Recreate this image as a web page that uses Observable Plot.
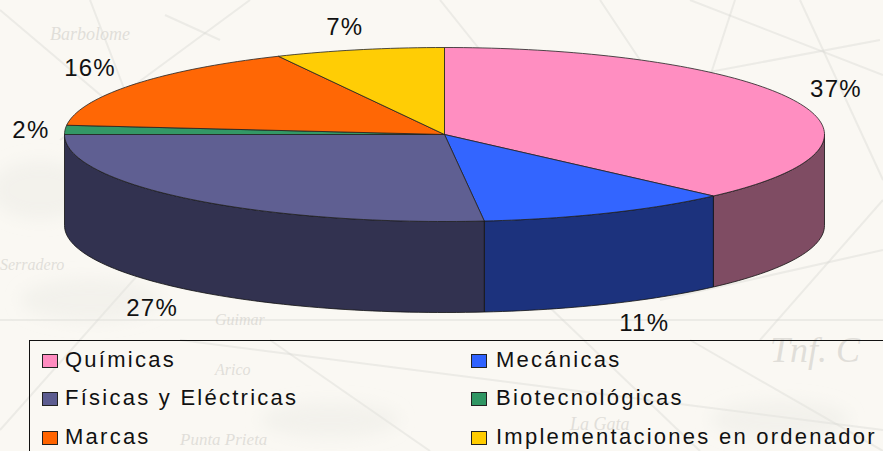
<!DOCTYPE html>
<html>
<head>
<meta charset="utf-8">
<script src="https://cdn.jsdelivr.net/npm/d3@7"></script>
<script src="https://cdn.jsdelivr.net/npm/@observablehq/plot@0.6"></script>
<style>
html,body{margin:0;padding:0;width:883px;height:451px;overflow:hidden;background:#faf8f3;}
#page{position:relative;width:883px;height:451px;overflow:hidden;}
#chart svg{display:block;background:transparent;}
#legend{position:absolute;left:29px;top:340px;width:900px;height:120px;border-left:1px solid #111;border-top:1px solid #111;
 font-family:"Liberation Sans",Arial,sans-serif;font-size:22px;letter-spacing:2.25px;color:#111;box-sizing:border-box;}
.item{position:absolute;white-space:nowrap;line-height:24px;height:24px;}
.sw{position:absolute;width:16px;height:14px;border:1px solid #222;box-sizing:border-box;}
</style>
</head>
<body>
<div id="page">
<div id="chart"></div>
<div id="legend"></div>
</div>
<script>
// Data
const categories = ["Químicas","Mecánicas","Físicas y Eléctricas","Biotecnológicas","Marcas","Implementaciones en ordenador"];
const shares = [37.49,10.84,26.67,1.7,16.1,7.2];
const topColors = ["#ff8cc0","#2f62ff","#5c5c90","#2f9663","#ff6400","#ffcc00"];
const wallColors = ["#7c4860","#172e7a","#2e2e4c","#1a4d33","#803300","#806600"];
const legendOrder = ["Químicas","Mecánicas","Físicas y Eléctricas","Biotecnológicas","Marcas","Implementaciones en ordenador"];

// Pie geometry
const cx=444, cy=134, rx=380, ry=87, depth=91;
const labelReach=[1.115,1.22,1.15,1.09,1.14,1.17];
const labelLift=[1.35,1.24,1.28,1,1.33,1.27];

const pie=d3.pie().sort(null).value(d=>d)(shares);
const px=a=>cx+rx*Math.sin(a), py=(a,dz=0)=>cy-ry*Math.cos(a)+dz;
const steps=(a0,a1)=>d3.range(0,1.0001,1/Math.max(2,Math.ceil((a1-a0)*40))).map(t=>a0+(a1-a0)*t);

const tops=[], walls=[];
pie.forEach((s,i)=>{
  const as=steps(s.startAngle,s.endAngle);
  const pts=[[cx,cy],...as.map(a=>[px(a),py(a)]),[cx,cy]];
  pts.forEach(p=>tops.push({id:i,x:p[0],y:p[1],c:topColors[i]}));
  const lo=Math.max(s.startAngle,Math.PI/2), hi=Math.min(s.endAngle,Math.PI*1.5);
  if(hi>lo){
    const bs=steps(lo,hi);
    const w=[...bs.map(a=>[px(a),py(a)]),...bs.slice().reverse().map(a=>[px(a),py(a,depth)]),[px(lo),py(lo)]];
    w.forEach(p=>walls.push({id:i,x:p[0],y:p[1],c:wallColors[i]}));
  }
});
const labels=pie.map((s,i)=>{
  const m=(s.startAngle+s.endAngle)/2, c=Math.cos(m);
  return {x:cx+rx*labelReach[i]*Math.sin(m), y:cy-ry*labelLift[i]*c+(c<0?depth:0), t:Math.round(shares[i])+"%"};
});

const chart=Plot.plot({
  width:883,height:340,margin:0,
  x:{domain:[0,883],range:[0,883],axis:null},
  y:{domain:[0,340],range:[0,340],axis:null},
  color:{type:"identity"},
  style:{background:"transparent",letterSpacing:"1.2px"},
  marks:[
    Plot.line(walls,{x:"x",y:"y",z:"id",fill:"c",fillOpacity:0.98,stroke:"#111",strokeWidth:0.8,curve:"linear"}),
    Plot.line(tops,{x:"x",y:"y",z:"id",fill:"c",fillOpacity:0.98,stroke:"#222",strokeWidth:0.8,curve:"linear"}),
    Plot.text(labels,{x:"x",y:"y",text:"t",fontSize:24,fontFamily:"Liberation Sans, Arial, sans-serif",fill:"#111",textAnchor:"middle"})
  ]
});
document.getElementById("chart").appendChild(chart);

// Legend below the SVG
const legend=document.getElementById("legend");
const colX=[12,441], rowY=[13,51,90], textX=[35,466];
legendOrder.forEach((name,i)=>{
  const col=i%2,row=Math.floor(i/2),k=categories.indexOf(name);
  const sw=document.createElement("div");sw.className="sw";
  sw.style.left=colX[col]+"px";sw.style.top=rowY[row]+"px";sw.style.background=topColors[k];
  legend.appendChild(sw);
  const t=document.createElement("div");t.className="item";t.textContent=name;
  t.style.left=textX[col]+"px";t.style.top=(rowY[row]-6)+"px";
  legend.appendChild(t);
});

// Faint sea-chart paper behind the chart
const bgLines=[[0,10,260,230],[90,0,140,130],[165,15,220,40],[250,0,60,140],[440,0,600,200],[600,0,700,150],[735,0,660,230],[880,40,560,100],[690,0,883,75],[430,60,700,240],[500,260,700,451],[660,300,883,250],[800,0,883,180],[0,320,883,320],[180,340,883,430],[760,340,883,200],[270,340,430,451],[0,430,160,250],[690,340,883,451]];
const bgText=[["Guimar",215,325,16],["Arico",215,375,16],["Punta Prieta",180,445,17],["La Gata",570,430,18],["Tnf. C",770,362,36],["Barbolome",50,40,18],["Serradero",0,270,16]];
const bgSvg=`<svg xmlns='http://www.w3.org/2000/svg' width='883' height='451'><defs><filter id='b'><feGaussianBlur stdDeviation='8'/></filter></defs>`+
 bgLines.map(l=>`<line x1='${l[0]}' y1='${l[1]}' x2='${l[2]}' y2='${l[3]}' stroke='#d8d6d1' stroke-opacity='.4' stroke-width='2'/>`).join("")+
 bgText.map(t=>`<text x='${t[1]}' y='${t[2]}' font-family='Liberation Serif' font-style='italic' font-size='${t[3]}' fill='#cfcdc8' fill-opacity='.6'>${t[0]}</text>`).join("")+
 `<g fill='#e6e4df' fill-opacity='.35' filter='url(#b)'><ellipse cx='90' cy='300' rx='70' ry='22'/><ellipse cx='40' cy='190' rx='50' ry='30'/><ellipse cx='780' cy='420' rx='70' ry='20'/><ellipse cx='330' cy='420' rx='70' ry='18'/></g></svg>`;
document.getElementById("page").style.background=`#faf8f3 url("data:image/svg+xml,${encodeURIComponent(bgSvg)}") no-repeat`;
</script>
</body>
</html>
